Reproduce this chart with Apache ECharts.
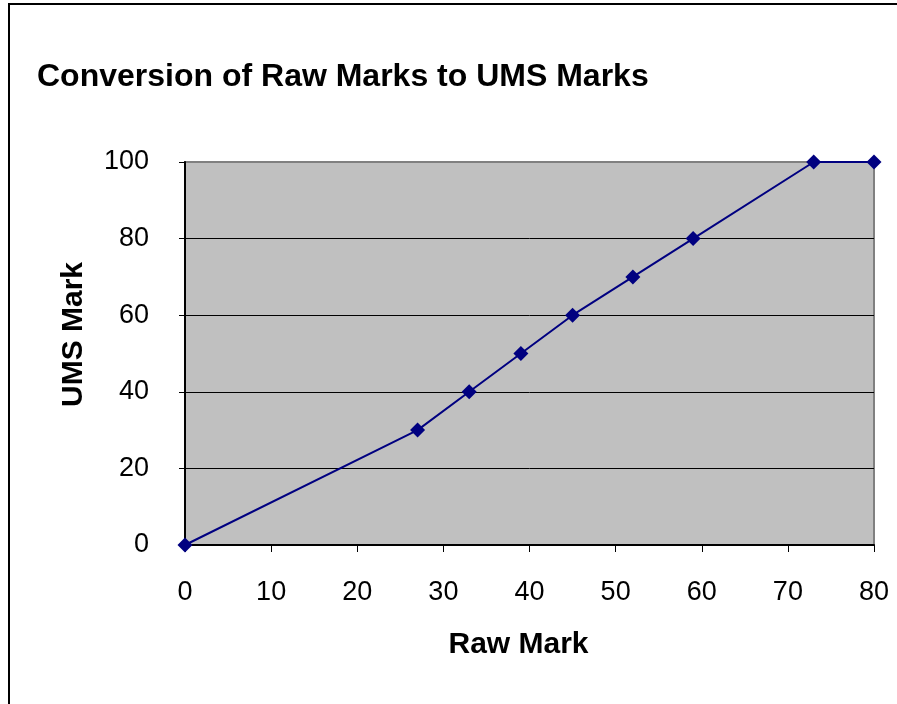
<!DOCTYPE html>
<html>
<head>
<meta charset="utf-8">
<style>
  html, body { margin: 0; padding: 0; background: #fff; }
  #chart { width: 897px; height: 704px; }
</style>
<script src="https://cdn.jsdelivr.net/npm/echarts@6/dist/echarts.min.js"></script>
</head>
<body>
<div id="chart"></div>
<script>
  // raw mark -> UMS mark
  const rawMarks = [0, 27, 33, 39, 45, 52, 59, 73, 80]
  const umsMarks = [0, 30, 40, 50, 60, 70, 80, 100, 100]

  const points = rawMarks.map((r, i) => [r, umsMarks[i]])
  const font = 'Liberation Sans, Arial, sans-serif'

  const chart = echarts.init(document.getElementById('chart'))
  chart.setOption({
    animation: false,
    title: {
      text: 'Conversion of Raw Marks to UMS Marks',
      left: 32,
      top: 56,
      textStyle: { fontFamily: font, fontSize: 32, fontWeight: 'bold', color: '#000' }
    },
    graphic: [{
      type: 'rect',
      shape: { x: 9, y: 4, width: 900, height: 720 },
      style: { fill: 'none', stroke: '#000', lineWidth: 2 },
      silent: true
    }],
    grid: {
      left: 185,
      top: 162,
      width: 689,
      height: 383,
      show: true,
      backgroundColor: '#c0c0c0',
      borderColor: '#808080',
      borderWidth: 2
    },
    xAxis: {
      type: 'value',
      min: 0,
      max: 80,
      interval: 10,
      name: 'Raw Mark',
      nameLocation: 'middle',
      nameGap: 85,
      nameTextStyle: {
        fontFamily: font, fontSize: 30, fontWeight: 'bold', color: '#000',
        padding: [0, 22, 0, 0]
      },
      axisLine: { show: true, lineStyle: { color: '#000', width: 2 } },
      axisTick: { show: true, inside: false, length: 7, lineStyle: { color: '#000' } },
      axisLabel: { fontFamily: font, fontSize: 27, color: '#000', margin: 34 },
      splitLine: { show: false }
    },
    yAxis: {
      type: 'value',
      min: 0,
      max: 100,
      interval: 20,
      name: 'UMS Mark',
      nameLocation: 'middle',
      nameGap: 96,
      nameTextStyle: {
        fontFamily: font, fontSize: 30, fontWeight: 'bold', color: '#000',
        padding: [0, 0, 0, 38]
      },
      axisLine: { show: true, lineStyle: { color: '#000', width: 2 } },
      axisTick: { show: true, inside: false, length: 6, lineStyle: { color: '#000' } },
      axisLabel: { fontFamily: font, fontSize: 27, color: '#000', margin: 36 },
      splitLine: {
        show: true,
        lineStyle: { color: ['#000', '#000', '#000', '#000', '#000', '#808080'], width: 1 }
      }
    },
    series: [{
      type: 'line',
      data: points,
      symbol: 'diamond',
      symbolSize: 15,
      lineStyle: { color: '#000080', width: 2 },
      itemStyle: { color: '#000080' }
    }]
  })
</script>
</body>
</html>
